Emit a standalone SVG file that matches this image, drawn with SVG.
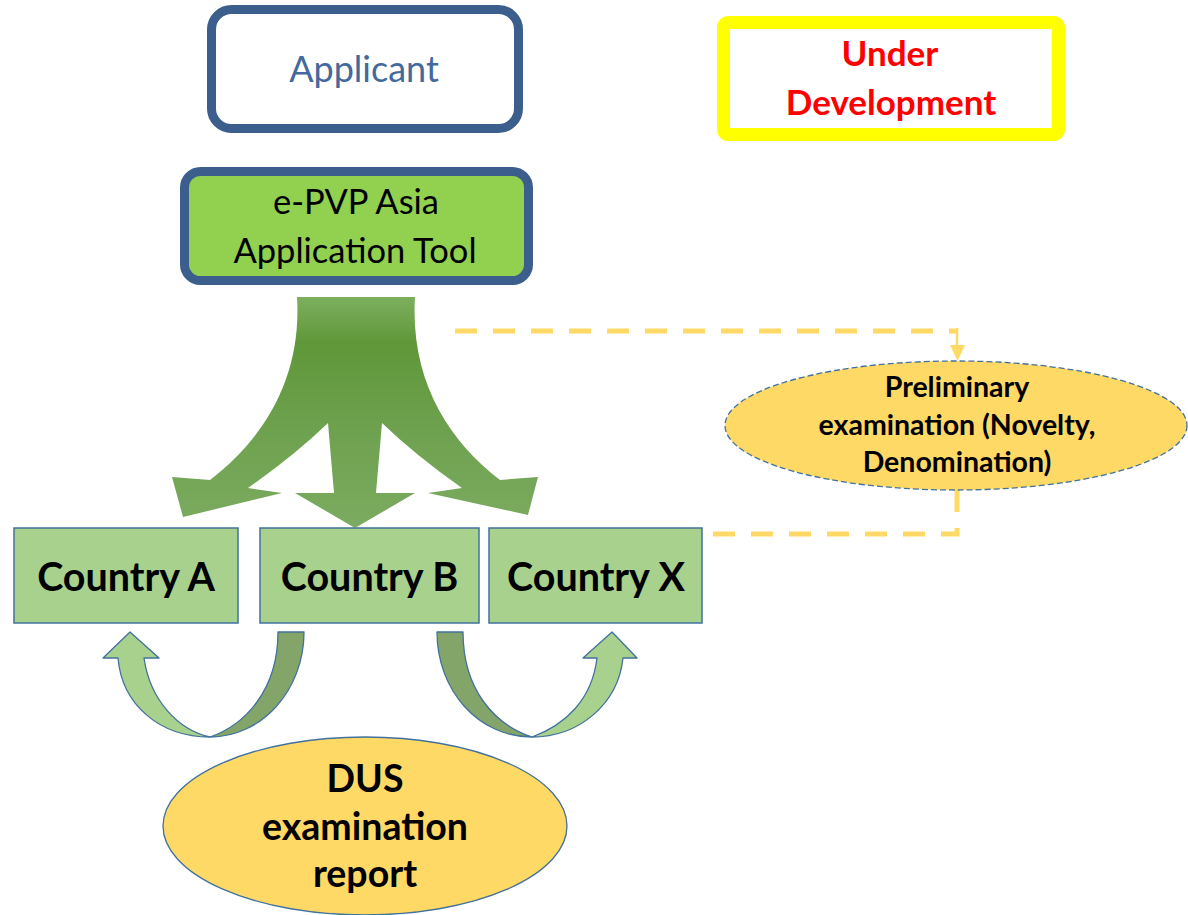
<svg xmlns="http://www.w3.org/2000/svg" width="1188" height="915" viewBox="0 0 1188 915">
<style>
  .lbl { font-family: Lato, "Open Sans", "Liberation Sans", sans-serif; text-anchor: middle; }
  .bold { font-weight: 700; fill: #000; }
  .country { fill: #A9D18E; stroke: #41719C; stroke-width: 1.5; }
  .light { fill: #A9D18E; stroke: #41719C; stroke-width: 1.3; stroke-linejoin: round; }
  .dark { fill: #84A56A; stroke: #41719C; stroke-width: 1.3; stroke-linejoin: round; }
  .oval { fill: #FFD966; stroke: #41719C; stroke-width: 1.3; }
  .dash { fill: none; stroke: #FFD966; stroke-width: 5; stroke-dasharray: 22 16; }
</style>
<defs>
  <linearGradient id="forkGrad" gradientUnits="userSpaceOnUse" x1="0" y1="297" x2="0" y2="528">
    <stop offset="0" stop-color="#7DAF5E"/>
    <stop offset="0.2" stop-color="#5F9739"/>
    <stop offset="0.6" stop-color="#6FA250"/>
    <stop offset="1" stop-color="#7BAB60"/>
  </linearGradient>
</defs>

<g id="under-development">
  <rect x="723.5" y="22.5" width="335" height="112" rx="5" fill="#fff" stroke="#FFFF00" stroke-width="13"/>
  <text class="lbl" x="890" y="66" font-size="35" font-weight="700" fill="#FF0000">Under</text>
  <text class="lbl" x="891" y="115" font-size="35" font-weight="700" fill="#FF0000">Development</text>
</g>

<g id="applicant">
  <rect x="211.5" y="9.5" width="307" height="119" rx="20" fill="#fff" stroke="#3B5E8C" stroke-width="9"/>
  <text class="lbl" x="364" y="82" font-size="36" fill="#44699C">Applicant</text>
</g>

<g id="tool">
  <rect x="184.5" y="171.5" width="344" height="109" rx="16" fill="#92D050" stroke="#3B5E8C" stroke-width="9"/>
  <text class="lbl" x="356" y="214" font-size="34.5" fill="#000">e-PVP Asia</text>
  <text class="lbl" x="355" y="263" font-size="34.5" fill="#000">Application Tool</text>
</g>

<g id="connectors">
  <path id="fork" fill="url(#forkGrad)" d="M 297,297 L 415,297 C 410,380 448,440 500,480 L 538,477 L 528,515 L 428,493 L 462,488 Q 415,455 382,423 L 376,493 L 415,493 L 355,528 L 295,493 L 334,493 L 328,423 Q 295,455 248,488 L 282,493 L 183,517 L 172,477 L 210,480 C 262,440 302,380 297,297 Z"/>
  <path class="dash" d="M 455,331 H 957"/>
  <path d="M 957,328 V 349" stroke="#FFD966" stroke-width="2.5" fill="none"/>
  <path d="M 950,345 L 965,345 L 957.5,361 Z" fill="#FFD966"/>
  <path class="dash" d="M 957,490 V 534 H 710"/>
  <path class="light" d="M 103,658 L 130,632 L 159,658 L 144,658 C 150,700 178,730 210,737 C 160,737 122,705 118,658 Z"/>
  <path class="dark" d="M 278,632 L 304,632 C 304,690 262,737 210,737 C 245,725 278,690 278,632 Z"/>
  <path class="light" d="M 583,658 L 612,632 L 637,658 L 623,658 C 618,705 578,737 532,737 C 565,725 592,700 597,658 Z"/>
  <path class="dark" d="M 437,632 L 463,632 C 463,690 495,725 532,737 C 478,737 437,690 437,632 Z"/>
</g>

<g id="country-a">
  <rect class="country" x="14" y="528" width="224" height="95"/>
  <text class="lbl bold" x="126" y="591" font-size="39.5">Country A</text>
</g>
<g id="country-b">
  <rect class="country" x="260" y="528" width="219" height="95"/>
  <text class="lbl bold" x="369.5" y="591" font-size="39.5">Country B</text>
</g>
<g id="country-x">
  <rect class="country" x="489" y="528" width="213" height="95"/>
  <text class="lbl bold" x="596" y="591" font-size="39.5">Country X</text>
</g>

<g id="preliminary">
  <ellipse class="oval" cx="956" cy="425.5" rx="231" ry="64.5" stroke-dasharray="6 3"/>
  <text class="lbl bold" x="957" y="397" font-size="28.5">Preliminary</text>
  <text class="lbl bold" x="957" y="435" font-size="28.5">examination (Novelty,</text>
  <text class="lbl bold" x="957" y="472" font-size="28.5">Denomination)</text>
</g>

<g id="dus">
  <ellipse class="oval" cx="365" cy="826" rx="202" ry="89"/>
  <text class="lbl bold" x="365" y="792" font-size="37.5">DUS</text>
  <text class="lbl bold" x="365" y="840" font-size="37.5">examination</text>
  <text class="lbl bold" x="365" y="887" font-size="37.5">report</text>
</g>
</svg>
